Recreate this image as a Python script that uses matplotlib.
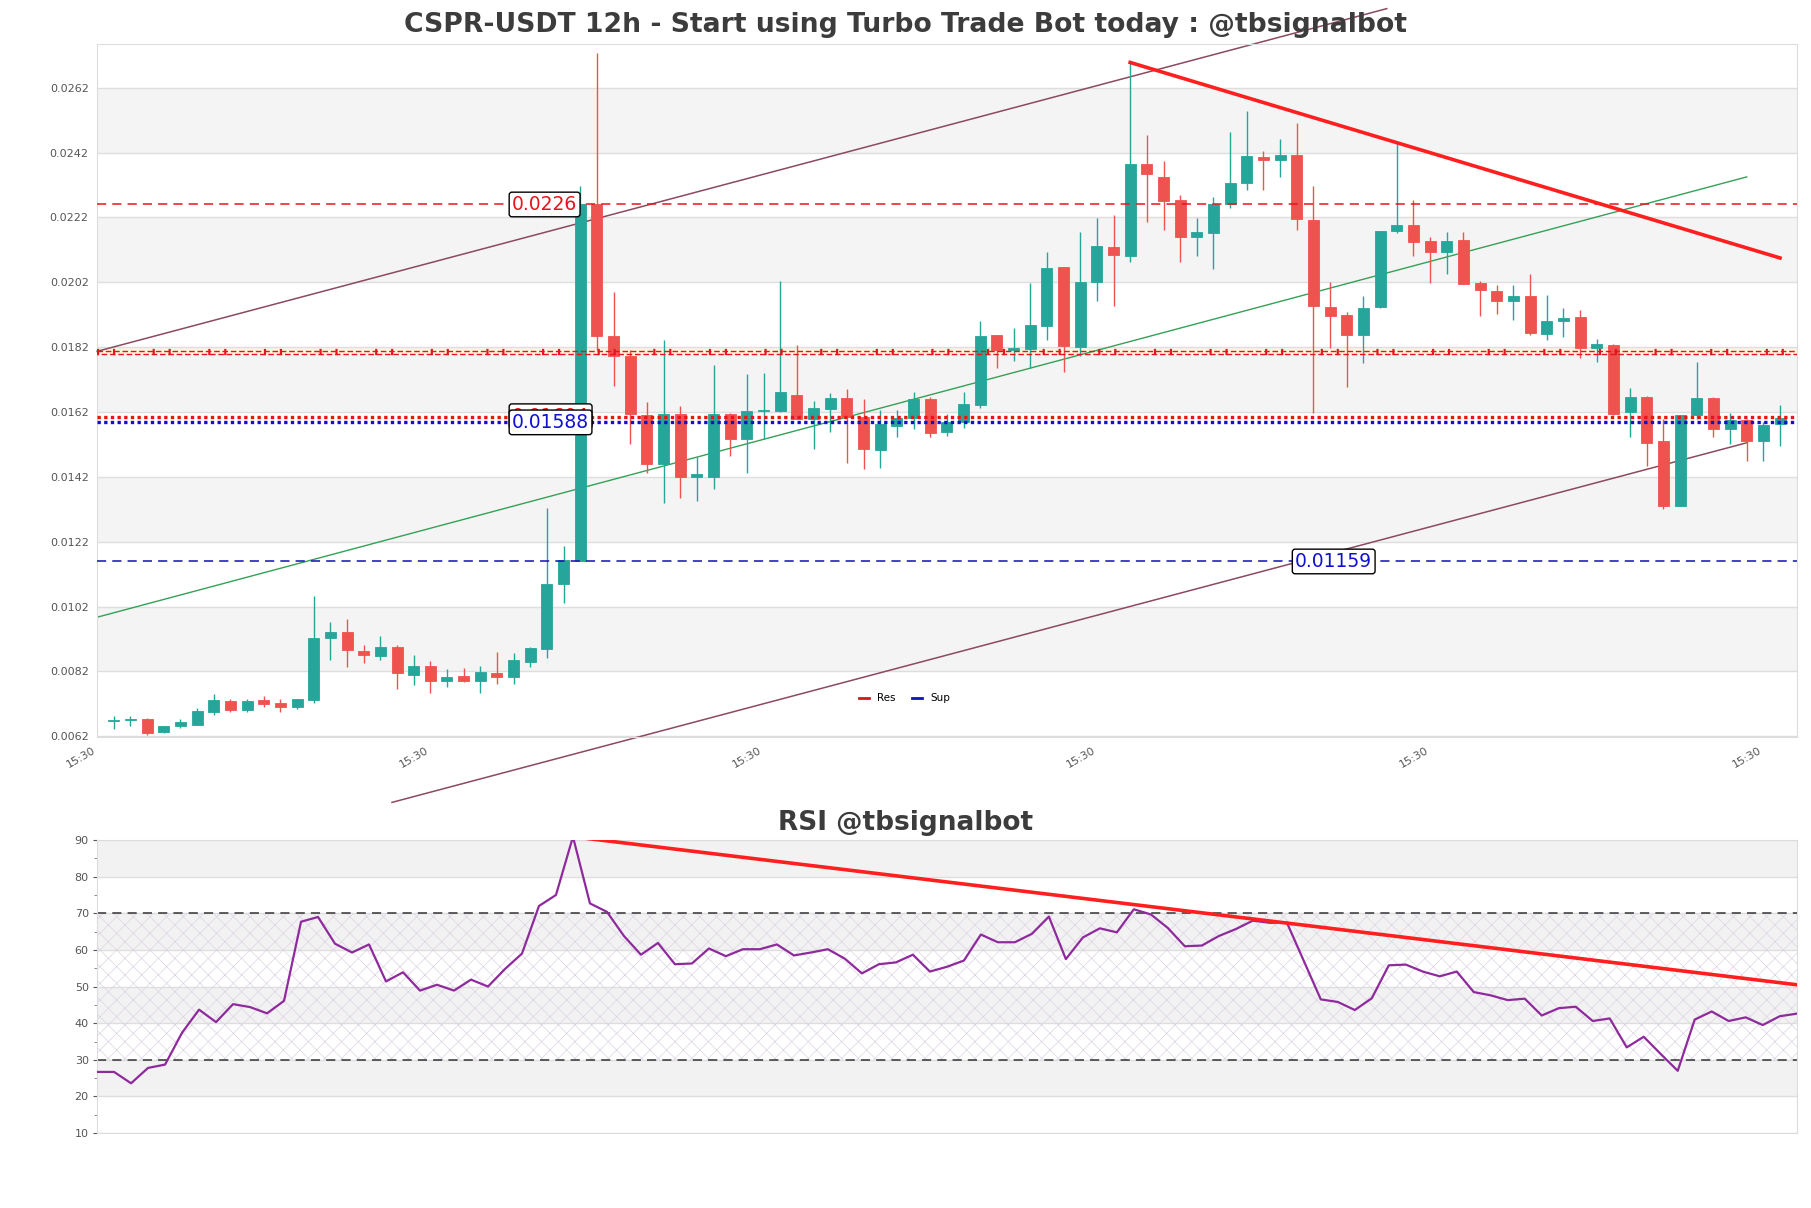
import matplotlib
matplotlib.use('Agg')
import matplotlib.pyplot as plt
from matplotlib.ticker import MultipleLocator

# ---- data (12h candles, index 0..100) ----
opens = [0.00667, 0.00670, 0.00672, 0.00632, 0.00653, 0.00656, 0.00694, 0.00730, 0.00701, 0.00731,
         0.00723, 0.00709, 0.00731, 0.00922, 0.00941, 0.00884, 0.00866, 0.00896, 0.00808, 0.00838,
         0.00790, 0.00805, 0.00790, 0.00816, 0.00803, 0.00848, 0.00889, 0.01088, 0.01159, 0.02260,
         0.01855, 0.01792, 0.01610, 0.01459, 0.01613, 0.01418, 0.01421, 0.01613, 0.01538, 0.01624,
         0.01624, 0.01671, 0.01599, 0.01628, 0.01663, 0.01604, 0.01502, 0.01576, 0.01600, 0.01661,
         0.01558, 0.01590, 0.01641, 0.01856, 0.01810, 0.01814, 0.01885, 0.02066, 0.01819, 0.02020,
         0.02128, 0.02101, 0.02384, 0.02345, 0.02274, 0.02160, 0.02171, 0.02260, 0.02325, 0.02406,
         0.02398, 0.02414, 0.02211, 0.01944, 0.01920, 0.01858, 0.01943, 0.02178, 0.02197, 0.02146,
         0.02112, 0.02149, 0.02018, 0.01992, 0.01961, 0.01979, 0.01862, 0.01902, 0.01913, 0.01816,
         0.01827, 0.01620, 0.01665, 0.01531, 0.01331, 0.01610, 0.01663, 0.01569, 0.01594, 0.01531,
         0.01583]
highs = [0.00683, 0.00683, 0.00676, 0.00653, 0.00674, 0.00708, 0.00749, 0.00735, 0.00734, 0.00745,
         0.00735, 0.00736, 0.01054, 0.00972, 0.00983, 0.00900, 0.00930, 0.00902, 0.00869, 0.00851,
         0.00827, 0.00830, 0.00837, 0.00880, 0.00876, 0.00896, 0.01325, 0.01208, 0.02318, 0.02726,
         0.01991, 0.01810, 0.01652, 0.01841, 0.01638, 0.01480, 0.01766, 0.01617, 0.01737, 0.01741,
         0.02025, 0.01826, 0.01654, 0.01679, 0.01690, 0.01661, 0.01627, 0.01627, 0.01683, 0.01665,
         0.01613, 0.01683, 0.01902, 0.01856, 0.01878, 0.02018, 0.02113, 0.02066, 0.02176, 0.02217,
         0.02228, 0.02698, 0.02473, 0.02393, 0.02290, 0.02217, 0.02283, 0.02483, 0.02547, 0.02424,
         0.02462, 0.02510, 0.02318, 0.02022, 0.01929, 0.01979, 0.02178, 0.02451, 0.02274, 0.02160,
         0.02174, 0.02174, 0.02025, 0.02011, 0.02011, 0.02047, 0.01981, 0.01940, 0.01936, 0.01844,
         0.01830, 0.01693, 0.01668, 0.01597, 0.01610, 0.01775, 0.01665, 0.01617, 0.01597, 0.01590,
         0.01641]
lows = [0.00642, 0.00653, 0.00624, 0.00630, 0.00646, 0.00656, 0.00687, 0.00694, 0.00694, 0.00711,
        0.00694, 0.00704, 0.00723, 0.00855, 0.00833, 0.00847, 0.00855, 0.00766, 0.00779, 0.00753,
        0.00772, 0.00786, 0.00752, 0.00782, 0.00781, 0.00834, 0.00860, 0.01031, 0.01159, 0.01810,
        0.01700, 0.01521, 0.01432, 0.01340, 0.01356, 0.01347, 0.01381, 0.01484, 0.01432, 0.01538,
        0.01621, 0.01597, 0.01505, 0.01558, 0.01462, 0.01443, 0.01448, 0.01542, 0.01567, 0.01544,
        0.01546, 0.01572, 0.01631, 0.01757, 0.01778, 0.01757, 0.01841, 0.01744, 0.01794, 0.01961,
        0.01947, 0.02084, 0.02205, 0.02180, 0.02084, 0.02102, 0.02061, 0.02249, 0.02304, 0.02304,
        0.02345, 0.02180, 0.01617, 0.01816, 0.01696, 0.01772, 0.01940, 0.02171, 0.02101, 0.02018,
        0.02046, 0.02016, 0.01917, 0.01922, 0.01903, 0.01858, 0.01841, 0.01851, 0.01786, 0.01775,
        0.01610, 0.01544, 0.01452, 0.01322, 0.01331, 0.01597, 0.01542, 0.01521, 0.01470, 0.01470,
        0.01515]
closes = [0.00667, 0.00670, 0.00631, 0.00652, 0.00663, 0.00697, 0.00731, 0.00701, 0.00730, 0.00720,
          0.00711, 0.00734, 0.00924, 0.00940, 0.00885, 0.00869, 0.00896, 0.00814, 0.00838, 0.00790,
          0.00803, 0.00790, 0.00819, 0.00803, 0.00855, 0.00892, 0.01088, 0.01164, 0.02260, 0.01855,
          0.01793, 0.01613, 0.01459, 0.01613, 0.01421, 0.01428, 0.01613, 0.01538, 0.01624, 0.01627,
          0.01682, 0.01599, 0.01631, 0.01663, 0.01604, 0.01505, 0.01583, 0.01600, 0.01661, 0.01555,
          0.01590, 0.01645, 0.01853, 0.01810, 0.01816, 0.01889, 0.02064, 0.01823, 0.02022, 0.02132,
          0.02104, 0.02384, 0.02355, 0.02270, 0.02160, 0.02174, 0.02260, 0.02327, 0.02410, 0.02398,
          0.02414, 0.02215, 0.01947, 0.01917, 0.01858, 0.01940, 0.02178, 0.02197, 0.02143, 0.02112,
          0.02146, 0.02016, 0.01995, 0.01961, 0.01977, 0.01864, 0.01902, 0.01911, 0.01816, 0.01830,
          0.01613, 0.01665, 0.01525, 0.01329, 0.01610, 0.01663, 0.01569, 0.01594, 0.01531, 0.01580,
          0.01600]

rsi = [26.7, 26.7, 23.6, 27.8, 28.7, 37.4, 43.7, 40.3, 45.2, 44.4,
       42.7, 46.1, 67.7, 69.0, 61.7, 59.3, 61.5, 51.4, 53.9, 48.9,
       50.5, 48.9, 51.9, 50.0, 54.8, 59.0, 72.0, 75.0, 90.9, 72.7,
       70.4, 63.8, 58.7, 61.9, 56.1, 56.3, 60.4, 58.3, 60.2, 60.2,
       61.5, 58.5, 59.3, 60.2, 57.6, 53.6, 56.1, 56.6, 58.7, 54.1,
       55.4, 57.1, 64.2, 62.1, 62.1, 64.4, 69.1, 57.5, 63.4, 65.9,
       64.8, 71.1, 69.7, 66.0, 61.0, 61.2, 63.8, 65.7, 68.0, 67.4,
       67.5, 57.0, 46.5, 45.8, 43.6, 46.8, 55.8, 56.0, 54.1, 52.8,
       54.1, 48.5, 47.6, 46.3, 46.7, 42.1, 44.1, 44.5, 40.6, 41.3,
       33.4, 36.3, 31.6, 27.0, 41.0, 43.2, 40.6, 41.6, 39.5, 41.9,
       42.6]

# support / resistance levels
res_levels = [0.0226, 0.01804, 0.01604]
sup_levels = [0.01588, 0.01159]

# trend lines: (x0, y0, x1, y1)
chan_upper = (-1, 0.01807, 76.4, 0.02864)
chan_lower = (16.7, 0.00416, 98, 0.01525)
mid_line = (-1, 0.00987, 98, 0.02345)
res_trend = (61, 0.02698, 100, 0.02095)
rsi_trend = (28, 90.9, 100, 50.5)

xtick_pos = [-1, 19, 39, 59, 79, 99]
xtick_lab = ['15:30'] * 6

UP = '#26a69a'
DOWN = '#ef5350'
BAND = '#f4f4f4'
GRID = '#dedede'
TXT = '#3c3c3c'
RED = '#e8141c'
BLUE = '#1010d0'

plt.rcParams['hatch.linewidth'] = 0.5

fig = plt.figure(figsize=(18.11, 12.08), dpi=100)
ax = fig.add_axes([0.0536, 0.39, 0.9385, 0.5736])
ax2 = fig.add_axes([0.0536, 0.062, 0.9385, 0.2426])

# ---- main price panel ----
ax.set_xlim(-1, 101)
ax.set_ylim(0.00618, 0.02755)
yt = [0.0062 + 0.002 * k for k in range(11)]
for k in range(0, 10, 2):
    ax.axhspan(yt[k + 1], yt[k + 2], color=BAND, zorder=0, lw=0)
for y in yt:
    ax.axhline(y, color=GRID, lw=1, zorder=0.5)

n = len(closes)
xs = list(range(n))
cols = [UP if c >= o else DOWN for o, c in zip(opens, closes)]
ax.vlines(xs, lows, highs, colors=cols, lw=1, zorder=3)
bottoms = [min(o, c) for o, c in zip(opens, closes)]
heights = [max(abs(c - o), 0.00002) for o, c in zip(opens, closes)]
ax.bar(xs, heights, bottom=bottoms, width=0.66, color=cols, edgecolor=cols,
       lw=0.6, zorder=3)

# channel + trend lines (channel lines run past the axes, as in the source)
for (x0, y0, x1, y1), c, lw, clip in [(chan_upper, '#8c4a5e', 1.1, False),
                                      (chan_lower, '#8c4a5e', 1.1, False),
                                      (mid_line, '#35a057', 1.0, True)]:
    ax.plot([x0, x1], [y0, y1], color=c, lw=lw, zorder=2, clip_on=clip)
ax.plot([res_trend[0], res_trend[2]], [res_trend[1], res_trend[3]],
        color='#ff1f1f', lw=2.6, zorder=5)

# horizontal levels
ax.axhline(res_levels[0], color=RED, ls=(0, (6, 4)), lw=1.1, zorder=4)
# the 0.018 level is several overlapping styles in the source
ax.axhline(res_levels[1], color='#fff4dc', lw=4.5, zorder=1)
ax.axhline(res_levels[1] + 0.00004, color=RED, ls=(0, (4, 2)), lw=1.0, zorder=4)
ax.axhline(res_levels[1] - 0.00004, color=RED, ls=(3, (4, 2)), lw=1.0, zorder=4)
ax.axhline(res_levels[1], color=RED, ls=(0, (0.35, 2.2, 0.35, 6)), lw=4.5, zorder=4)
ax.axhline(res_levels[2], color=RED, ls=(0, (1, 1)), lw=2.4, zorder=4)
ax.axhline(sup_levels[0], color=BLUE, ls=(0, (1, 1)), lw=2.4, zorder=4)
ax.axhline(sup_levels[1], color='#1010b0', ls=(0, (6, 4)), lw=1.1, zorder=4)

box = dict(boxstyle='round,pad=0.15', fc='white', ec='black', lw=1.0)
ax.text(23.9, res_levels[0], '0.0226', color=RED, fontsize=13.5,
        va='center', ha='left', bbox=box, zorder=6)
ax.text(23.9, res_levels[2] + 0.00003, '0.01604', color=RED, fontsize=13.5,
        va='center', ha='left', bbox=box, zorder=6)
ax.text(23.9, sup_levels[0], '0.01588', color=BLUE, fontsize=13.5,
        va='center', ha='left', bbox=box, zorder=7)
ax.text(70.9, sup_levels[1], '0.01159', color=BLUE, fontsize=13.5,
        va='center', ha='left', bbox=box, zorder=6)

ax.plot([], [], color='#d01818', lw=2, label='Res')
ax.plot([], [], color='#1010c0', lw=2, label='Sup')
ax.legend(loc='lower center', bbox_to_anchor=(0.475, 0.035), ncol=2, frameon=False,
          fontsize=7.5, handlelength=1.0, columnspacing=1.5)

ax.set_yticks(yt)
ax.set_yticklabels([f'{v:.4f}' for v in yt])
ax.set_xticks(xtick_pos)
ax.set_xticklabels(xtick_lab, rotation=30, ha='right')
ax.tick_params(axis='both', labelsize=8, colors='#555555', length=0, pad=6)
for s in ax.spines.values():
    s.set_color('#dcdcdc')

fig.text(0.5, 0.9738, 'CSPR-USDT 12h - Start using Turbo Trade Bot today : @tbsignalbot',
         ha='center', va='baseline', fontsize=19.2, fontweight='bold', color=TXT)

# ---- RSI panel ----
ax2.set_xlim(0, n - 1)
ax2.set_ylim(10, 90)
for lo in (20, 40, 60, 80):
    ax2.axhspan(lo, lo + 10, color='#f2f2f3', zorder=0, lw=0)
for y in range(10, 91, 10):
    ax2.axhline(y, color=GRID, lw=1, zorder=0.5)
ax2.fill_between([0, n - 1], 30, 70, facecolor='none', edgecolor='#ddd3e3',
                 hatch='xx', lw=0, zorder=0.8)
ax2.axhline(30, color='#333333', ls=(0, (6, 4)), lw=1.1, zorder=2)
ax2.axhline(70, color='#333333', ls=(0, (6, 4)), lw=1.1, zorder=2)
ax2.plot(xs, rsi, color='#8e2a9c', lw=1.6, zorder=3)
ax2.plot([rsi_trend[0], rsi_trend[2]], [rsi_trend[1], rsi_trend[3]],
         color='#ff1f1f', lw=2.6, zorder=4)
ax2.set_xticks([])
ax2.set_yticks(range(10, 91, 10))
ax2.yaxis.set_minor_locator(MultipleLocator(5))
ax2.tick_params(axis='y', which='major', labelsize=8, colors='#555555', length=3, pad=3)
ax2.tick_params(axis='y', which='minor', colors='#777777', length=2)
for s in ax2.spines.values():
    s.set_color('#dcdcdc')

fig.text(0.5, 0.3129, 'RSI @tbsignalbot', ha='center', va='baseline', fontsize=19,
         fontweight='bold', color=TXT)

fig.savefig('out.png', dpi=100, facecolor='white')
